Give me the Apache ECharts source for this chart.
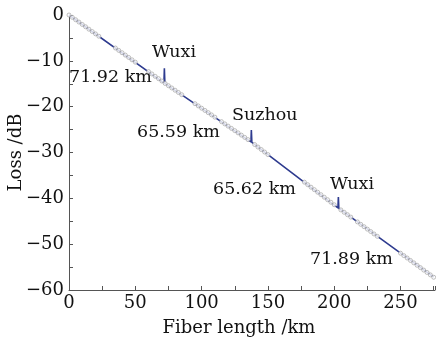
<!DOCTYPE html>
<html>
<head>
<meta charset="utf-8">
<script src="https://cdn.jsdelivr.net/npm/echarts@6/dist/echarts.min.js"></script>
<style>
  html, body { margin: 0; padding: 0; background: #fff; }
  #chart { width: 436px; height: 339px; }
</style>
</head>
<body>
<div id="chart"></div>
<script>
// Main OTDR trace (km, dB) with the reflection spikes at the splice stations
const traceKm   = [0, 71.6, 71.92, 72.3, 137.2, 137.51, 137.9, 202.8, 203.13, 203.5, 275.02];
const traceLoss = [0, -14.8, -11.6, -14.9, -27.7, -25.1, -27.8, -42.1, -39.7, -42.2, -57.2];

// Sampled trace drawn as open circles
const ringKm = [
  0, 2.5, 5, 7.5, 10, 12.5, 15, 17.5, 20, 22.5,
  35, 37.5, 40, 42.5, 45, 47.5, 50,
  60, 62.5, 65, 67.5, 70, 72.5, 75, 77.5, 80, 82.5, 85,
  95, 97.5, 100, 102.5, 105, 107.5, 110,
  115, 117.5, 120, 122.5, 125, 127.5, 130, 132.5, 135,
  140, 142.5, 145, 147.5, 150,
  177.5, 180, 182.5, 185, 187.5, 190, 192.5, 195, 197.5, 200,
  205, 207.5, 210, 212.5,
  217.5, 220, 222.5, 225, 227.5, 230, 232.5,
  250, 252.5, 255, 257.5, 260, 262.5, 265, 267.5, 270, 272.5, 275
];
const ringLoss = [
  0, -0.51, -1.03, -1.54, -2.06, -2.57, -3.09, -3.6, -4.12, -4.63,
  -7.2, -7.72, -8.23, -8.75, -9.26, -9.78, -10.29,
  -12.35, -12.86, -13.38, -13.89, -14.41, -14.94, -15.43, -15.92, -16.41, -16.9, -17.39,
  -19.35, -19.84, -20.33, -20.82, -21.31, -21.8, -22.29,
  -23.27, -23.76, -24.25, -24.74, -25.23, -25.72, -26.21, -26.7, -27.19,
  -28.26, -28.81, -29.35, -29.9, -30.45,
  -36.47, -37.02, -37.57, -38.11, -38.66, -39.21, -39.76, -40.3, -40.85, -41.4,
  -42.52, -43.04, -43.57, -44.09,
  -45.14, -45.67, -46.19, -46.72, -47.24, -47.77, -48.29,
  -51.97, -52.5, -53.02, -53.55, -54.07, -54.6, -55.12, -55.65, -56.17, -56.7, -57.22
];

// Station names and span lengths
const stationNames = ['Wuxi', 'Suzhou', 'Wuxi'];
const spanLengths = ['71.92 km', '65.59 km', '65.62 km', '71.89 km'];

const xTicks = { min: 0, max: 276, interval: 50 };
const yTicks = { min: -60, max: 0, interval: 10 };

const FONT = 'DejaVu Serif';
const chart = echarts.init(document.getElementById('chart'), null, { renderer: 'canvas' });

const txt = (text, left, top) => ({
  type: 'text', left: left, top: top,
  style: { text: text, font: '17.5px "' + FONT + '"', fill: '#111' }
});

chart.setOption({
  animation: false,
  backgroundColor: '#fff',
  grid: { left: 69, right: 1, top: 15, bottom: 49, containLabel: false, outerBoundsMode: 'none' },
  xAxis: {
    type: 'value',
    min: xTicks.min, max: xTicks.max, interval: xTicks.interval,
    name: 'Fiber length /km',
    nameLocation: 'middle', nameGap: 29, nameMoveOverlap: false,
    nameTextStyle: { fontFamily: FONT, fontSize: 18, color: '#111', padding: [0, 26, 0, 0] },
    axisLine: { onZero: false, lineStyle: { color: '#555', width: 1 } },
    axisTick: { inside: true, length: 4, lineStyle: { color: '#555' } },
    minorTick: { show: true, splitNumber: 2, length: 4, lineStyle: { color: '#555' } },
    axisLabel: { fontFamily: FONT, fontSize: 18, color: '#111', margin: 4, showMaxLabel: false },
    splitLine: { show: false }
  },
  yAxis: {
    type: 'value',
    min: yTicks.min, max: yTicks.max, interval: yTicks.interval,
    name: 'Loss /dB',
    nameLocation: 'middle', nameGap: 44, nameMoveOverlap: false,
    nameTextStyle: { fontFamily: FONT, fontSize: 18, color: '#111' },
    axisLine: { show: true, onZero: false, lineStyle: { color: '#555', width: 1 } },
    axisTick: { show: true, inside: true, length: 4, lineStyle: { color: '#555' } },
    minorTick: { show: true, splitNumber: 2, length: 4, lineStyle: { color: '#555' } },
    axisLabel: {
      fontFamily: FONT, fontSize: 18, color: '#111', margin: 5,
      formatter: v => String(v).replace('-', '\u2212')
    },
    splitLine: { show: false }
  },
  series: [
    {
      type: 'line',
      data: traceKm.map((k, i) => [k, traceLoss[i]]),
      showSymbol: false,
      lineStyle: { color: '#2e3b8f', width: 1.6 },
      z: 2
    },
    {
      type: 'scatter',
      data: ringKm.map((k, i) => [k, ringLoss[i]]),
      symbol: 'circle',
      symbolSize: 4,
      itemStyle: { color: '#ffffff', borderColor: '#9a9a9a', borderWidth: 0.8 },
      z: 3
    }
  ],
  graphic: [
    txt(stationNames[0], 152, 43),
    txt(stationNames[1], 232, 106),
    txt(stationNames[2], 330, 175),
    txt(spanLengths[0], 69, 68),
    txt(spanLengths[1], 137, 123),
    txt(spanLengths[2], 213, 180),
    txt(spanLengths[3], 310, 250)
  ]
});
</script>
</body>
</html>
